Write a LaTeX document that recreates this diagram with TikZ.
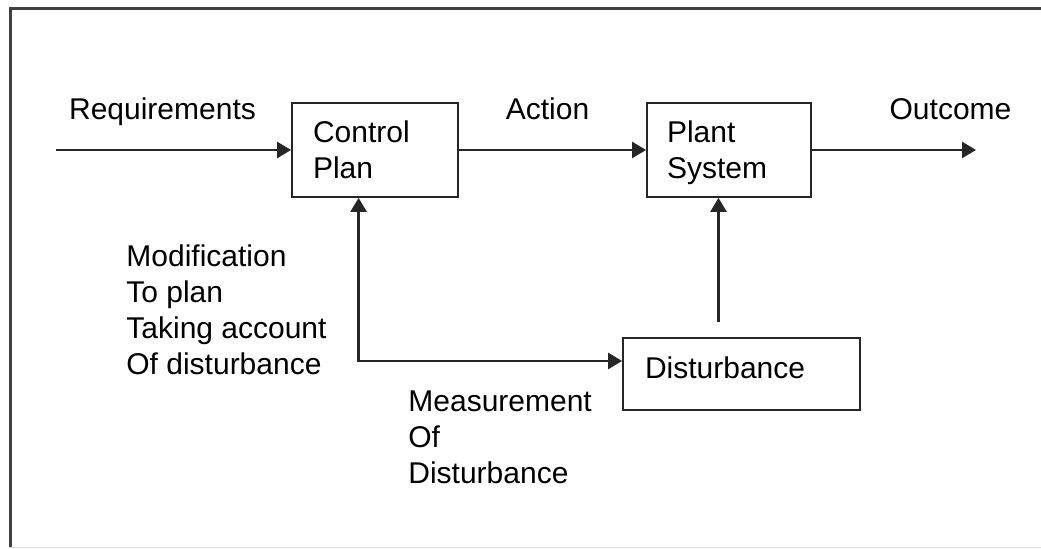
\documentclass[tikz,border=0pt]{standalone}
\usepackage{fontspec}
\setmainfont{Liberation Sans}
\usetikzlibrary{calc, arrows.meta, positioning}
\newcommand{\diagfont}{\fontsize{15}{18.1}\selectfont}
\tikzset{
    boxnode/.style = {draw=black!85, line width=0.9pt, rectangle, inner ysep=0pt, 
      node distance=0em, align=left, font=\diagfont},
    textnode/.style = {draw=none, fill=none, rectangle, inner sep=0em, 
      node distance=0em, align=left, font=\diagfont},
    connect/.style = {black!85, line width=1.3pt, -{Triangle[length=7pt, width=8pt]}},
    twoway/.style = {black!85, line width=1.3pt, 
      {Triangle[length=7pt, width=8pt]}-{Triangle[length=7pt, width=8pt]}},
    framing/.style = {black!75, line width=1.5pt}
}

\begin{document}
\begin{tikzpicture}[x=0.5pt, y=0.5pt]
    \useasboundingbox (0,0) rectangle (1041,549);
    \draw [framing] (1041,540) -- (10,540) -- (10,2);
    \draw [black!15, line width=0.5pt] (10,1) -- (1041,1);

    \node [name = ctrl, boxnode, text width=62pt, inner xsep=10.5pt, minimum height=47pt] 
        at (375,399) {Control\\Plan};
    \node [name = plant, boxnode, right of = ctrl, xshift = 177pt, text width=62pt, 
        inner xsep=10pt, minimum height=47pt] {Plant\\S\smash{y}stem};
    \node [name = dist, boxnode, below of = plant, xshift = 6.25pt, yshift = -112pt, 
        text width=96.5pt, inner xsep=11pt, minimum height=36pt, text depth=6pt] {Disturbance};

    \coordinate (in) at (56,399);
    \coordinate (out) at (976,399);
    \coordinate (fb) at (358.6,188);
    \coordinate (dup) at (718.5,227);

    \node [name = req, textnode, anchor=base] at (162.5,429) {Requirements};
    \node [name = act, textnode, anchor=base] at (547.5,429) {Action};
    \node [name = outc, textnode, anchor=base] at (950.5,429) {Outcome};
    \node [name = modif, textnode, anchor=north west] at (126,305) 
        {Modification\\To plan\\Taking account\\Of disturbance};
    \node [name = meas, textnode, anchor=north west] at (408,159) 
        {Measurement\\Of\\Disturbance};

    \draw (in) edge[connect] (ctrl.west);
    \draw (ctrl.east) edge[connect] (plant.west);
    \draw (plant.east) edge[connect] (out);
    \draw (dup) edge[connect] (dup |- plant.south);
    \draw [twoway] (fb |- ctrl.south) -- (fb) -- (fb -| dist.west);
\end{tikzpicture}
\end{document}
